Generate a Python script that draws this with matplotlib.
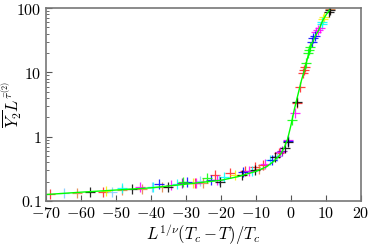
import numpy as np
import matplotlib
matplotlib.use("Agg")
import matplotlib.pyplot as plt
from matplotlib.ticker import FixedLocator, FuncFormatter

plt.rcParams["mathtext.fontset"] = "cm"
plt.rcParams["font.family"] = "serif"
plt.rcParams["font.serif"] = ["DejaVu Serif"]

# Fitted scaling curve (green line).
curveX = [-70, -60, -50, -40, -30, -20, -15, -10, -7, -5, -3, -2, -1, 0, 1, 2, 3, 4, 5, 6, 7, 8, 9, 10, 11]
curveY = [0.126, 0.137, 0.148, 0.160, 0.183, 0.21, 0.24, 0.29, 0.34, 0.41, 0.53, 0.66, 0.9, 1.5, 2.7,
          4.5, 7.5, 11.5, 19, 28, 37, 46, 63, 78, 93]

# Data points, one series per system size (colour).
blackX = [-57.4, -45.3, -35.2, -20.3, -14.0, -10.3, -4.6, -1.7, -0.8, 1.6, 10.9, 11.3]
blackY = [0.137, 0.152, 0.167, 0.200, 0.255, 0.303, 0.489, 0.66, 0.836, 3.5, 87.9, 95]
redX = [-68.9, -53.8, -27.5, -21.7, -17.4, -13.0, -10.3, -7.9, -3.5, 1.6, 2.6, 3.5, 3.7, 4.0]
redY = [0.127, 0.138, 0.19, 0.254, 0.270, 0.29, 0.341, 0.363, 0.55, 3.3, 6.0, 9.7, 10.9, 12.3]
limeX = [-30.8, -24.1, 0.2, 4.2, 5.0, 5.2, 5.5]
limeY = [0.200, 0.225, 1.82, 13.9, 19.8, 22, 25.1]
blueX = [-37.6, -29.8, -22.8, -13.6, -5.5, -0.9, 6.0, 6.4, 6.8]
blueY = [0.182, 0.200, 0.21, 0.286, 0.434, 0.86, 30, 33.9, 37]
magentaX = [-43.1, -34.3, -27.0, -21.2, -12.0, -7.5, -3.0, -0.8, 1.1, 7.3, 7.8, 8.3]
magentaY = [0.167, 0.177, 0.193, 0.21, 0.29, 0.38, 0.58, 0.889, 2.31, 42, 45, 48.5]
cyanX = [-48.2, -39.5, -32.5, -19.0, -11.0, -6.0, 8.8, 9.0]
cyanY = [0.158, 0.167, 0.185, 0.24, 0.29, 0.43, 56, 61.4]
yellowX = [-52.9, -28.0, -16.0, 9.2, 9.5]
yellowY = [0.145, 0.19, 0.25, 68, 73.5]
orangeX = [-61.2, -48.4, -42.5, -36.8, -25.0, -9.0, 11.1]
orangeY = [0.135, 0.148, 0.155, 0.167, 0.19, 0.31, 98]
lightblueX = [-64.9, -51.2, -39.8, -26.0, -20.5, -4.0]
lightblueY = [0.132, 0.140, 0.166, 0.205, 0.215, 0.5]
purpleX = [-31.0, -2.5]
purpleY = [0.19, 0.6]

series = [
  (redX, redY, "#ff2020"),
  (lightblueX, lightblueY, "#80c8ff"),
  (orangeX, orangeY, "#e08040"),
  (yellowX, yellowY, "#f0f000"),
  (cyanX, cyanY, "#00ffff"),
  (magentaX, magentaY, "#ff00ff"),
  (blueX, blueY, "#0000ff"),
  (purpleX, purpleY, "#8000c0"),
  (limeX, limeY, "#00ff00"),
  (blackX, blackY, "#000000"),
]

fig = plt.figure(figsize=(3.74, 2.46), dpi=100)
ax = fig.add_axes([0.123, 0.183, 0.842, 0.784])

for xs, ys, c in series:
  ax.plot(xs, ys, linestyle="none", marker="+", markersize=7, markeredgewidth=0.9, color=c, alpha=0.85)
ax.plot(curveX, curveY, color="#00ff00", linewidth=1.0)

ax.set_yscale("log")
ax.set_xlim(-70, 20)
ax.set_ylim(0.1, 100)

ax.xaxis.set_major_locator(FixedLocator(np.arange(-70, 21, 10)))
ax.xaxis.set_major_formatter(FuncFormatter(lambda v, p: r"$%d$" % v))
ax.yaxis.set_major_locator(FixedLocator([0.1, 1, 10, 100]))
ax.yaxis.set_major_formatter(FuncFormatter(lambda v, p: r"$%g$" % v))

ax.tick_params(which="both", direction="in", top=False, right=False, labelsize=11.5, color="#555555")
ax.tick_params(which="major", length=4, width=0.8, pad=3)
ax.tick_params(which="minor", length=2, width=0.6)
for s in ax.spines.values():
  s.set_color("#777777")
  s.set_linewidth(1.2)

ax.set_xlabel(r"$L^{1/\nu}(T_c-T)/T_c$", fontsize=12)
ax.set_ylabel(r"$\overline{Y_2}L^{\bar{\tau}^{(2)}}$", fontsize=12)
ax.xaxis.set_label_coords(0.5, -0.2)
ax.xaxis.label.set_va("baseline")
ax.yaxis.set_label_coords(-0.108, 0.5)
ax.yaxis.label.set_va("center")

plt.savefig("out.png", dpi=100)
